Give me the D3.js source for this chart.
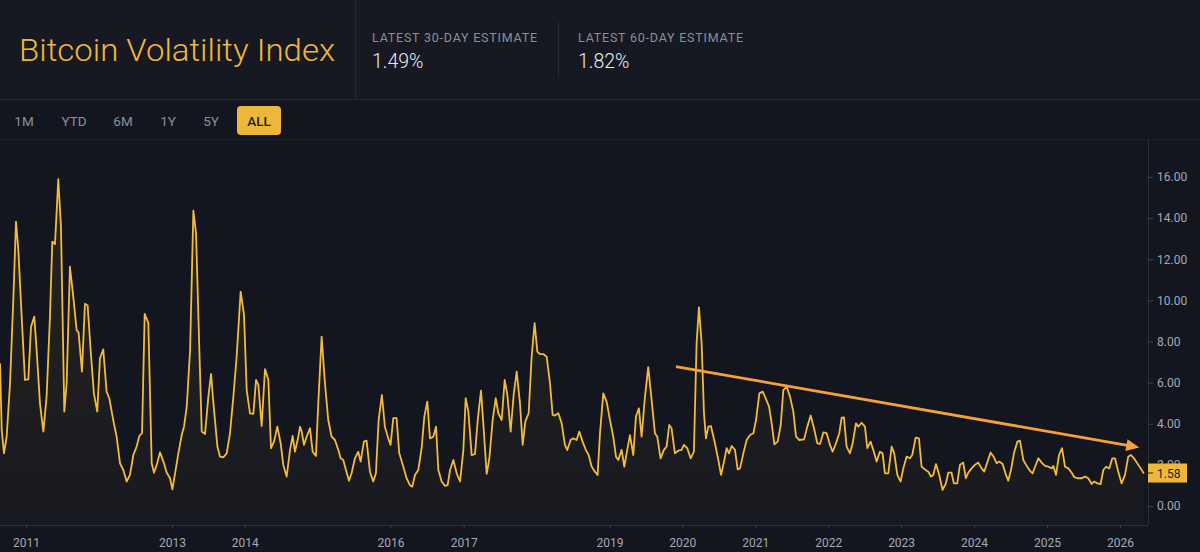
<!DOCTYPE html>
<html>
<head>
<meta charset="utf-8">
<script src="https://cdn.jsdelivr.net/npm/d3@7"></script>
<style>
  html, body { margin: 0; padding: 0; background: #13161e; }
  svg { display: block; }
  text { font-family: Roboto, "Noto Sans", sans-serif; }
</style>
</head>
<body>
<svg id="chart" width="1200" height="552"></svg>
<script>
// ---------------- DATA ----------------
const titleText = "Bitcoin Volatility Index";
const statLabels = ["LATEST 30-DAY ESTIMATE", "LATEST 60-DAY ESTIMATE"];
const statValues = ["1.49%", "1.82%"];
const rangeButtons = ["1M", "YTD", "6M", "1Y", "5Y", "ALL"];
const activeButton = "ALL";

// x-axis tick labels (years shown on the axis)
const xTickYears = [2011, 2013, 2014, 2016, 2017, 2019, 2020, 2021, 2022, 2023, 2024, 2025, 2026];
// y-axis tick values
const yTickValues = [0, 2, 4, 6, 8, 10, 12, 14, 16];

// observation dates, as decimal years
const dates = [
  2010.644, 2010.667, 2010.698, 2010.735, 2010.781, 2010.826, 2010.863, 2010.895, 2010.941, 2010.986,
  2011.032, 2011.069, 2011.114, 2011.146, 2011.192, 2011.238, 2011.283, 2011.329, 2011.361, 2011.398,
  2011.443, 2011.480, 2011.526, 2011.558, 2011.603, 2011.649, 2011.695, 2011.722, 2011.768, 2011.809,
  2011.846, 2011.887, 2011.932, 2011.978, 2012.015, 2012.060, 2012.106, 2012.143, 2012.197, 2012.243,
  2012.289, 2012.335, 2012.380, 2012.426, 2012.472, 2012.517, 2012.554, 2012.591, 2012.627, 2012.677,
  2012.723, 2012.755, 2012.792, 2012.837, 2012.883, 2012.929, 2012.974, 2013.006, 2013.043, 2013.088,
  2013.134, 2013.166, 2013.203, 2013.249, 2013.294, 2013.331, 2013.363, 2013.409, 2013.454, 2013.500,
  2013.537, 2013.569, 2013.624, 2013.660, 2013.706, 2013.751, 2013.797, 2013.843, 2013.888, 2013.943,
  2013.989, 2014.026, 2014.071, 2014.117, 2014.154, 2014.186, 2014.231, 2014.277, 2014.323, 2014.359,
  2014.400, 2014.446, 2014.492, 2014.528, 2014.574, 2014.620, 2014.656, 2014.688, 2014.734,
  2014.757, 2014.780, 2014.812, 2014.848, 2014.894, 2014.931, 2014.976, 2015.008, 2015.054, 2015.100,
  2015.145, 2015.191, 2015.237, 2015.283, 2015.315, 2015.351, 2015.388, 2015.429, 2015.465, 2015.511,
  2015.557, 2015.589, 2015.634, 2015.671, 2015.717, 2015.762, 2015.799, 2015.836, 2015.881, 2015.922,
  2015.968, 2016.000, 2016.037, 2016.082, 2016.119, 2016.174, 2016.219, 2016.265, 2016.297, 2016.334,
  2016.379, 2016.425, 2016.462, 2016.503, 2016.539, 2016.585, 2016.622, 2016.654, 2016.699, 2016.745,
  2016.781, 2016.814, 2016.859, 2016.905, 2016.951, 2016.996, 2017.028, 2017.065, 2017.110, 2017.156,
  2017.193, 2017.238, 2017.270, 2017.316, 2017.353, 2017.398, 2017.440, 2017.476, 2017.522, 2017.563,
  2017.600, 2017.645, 2017.686, 2017.728, 2017.773, 2017.810, 2017.846, 2017.892, 2017.933, 2017.974,
  2018.011, 2018.047, 2018.093, 2018.139, 2018.185, 2018.221, 2018.253, 2018.299, 2018.345, 2018.390,
  2018.422, 2018.468, 2018.504, 2018.550, 2018.587, 2018.632, 2018.678, 2018.715, 2018.756, 2018.801,
  2018.838,
  2018.871, 2018.916, 2018.962, 2019.008, 2019.053, 2019.090, 2019.122, 2019.168, 2019.204, 2019.236,
  2019.282, 2019.328, 2019.364, 2019.405, 2019.442, 2019.488, 2019.533, 2019.579, 2019.625, 2019.657,
  2019.702, 2019.748, 2019.785, 2019.821, 2019.853, 2019.899, 2019.945, 2019.990, 2020.022, 2020.068,
  2020.114, 2020.159, 2020.196, 2020.228, 2020.265, 2020.297, 2020.324, 2020.356, 2020.392, 2020.447,
  2020.493, 2020.530, 2020.571, 2020.607, 2020.639, 2020.676, 2020.721, 2020.758, 2020.790, 2020.836,
  2020.881, 2020.927, 2020.973, 2021.009, 2021.055, 2021.101, 2021.142, 2021.188, 2021.224, 2021.261,
  2021.306, 2021.348, 2021.384, 2021.430, 2021.476, 2021.521, 2021.558, 2021.604, 2021.668, 2021.713,
  2021.759, 2021.805, 2021.850, 2021.887, 2021.933, 2021.978, 2022.024, 2022.060, 2022.106, 2022.152,
  2022.184, 2022.216, 2022.252, 2022.298, 2022.335, 2022.380, 2022.412, 2022.458, 2022.504, 2022.536,
  2022.581, 2022.618, 2022.664, 2022.709,
  2022.746, 2022.778, 2022.824, 2022.870, 2022.906, 2022.948, 2022.993, 2023.030, 2023.075, 2023.121,
  2023.153, 2023.199, 2023.245, 2023.281, 2023.327, 2023.373, 2023.409, 2023.441, 2023.478, 2023.523,
  2023.569, 2023.615, 2023.647, 2023.692, 2023.724, 2023.770, 2023.807, 2023.852, 2023.889, 2023.921,
  2023.967, 2024.012, 2024.058, 2024.104, 2024.140, 2024.181, 2024.227, 2024.273, 2024.310, 2024.346,
  2024.392, 2024.437, 2024.469, 2024.506, 2024.547, 2024.593, 2024.629, 2024.675, 2024.721, 2024.776,
  2024.803, 2024.835, 2024.881, 2024.926, 2024.972, 2025.018, 2025.063, 2025.086, 2025.123, 2025.164,
  2025.205, 2025.246, 2025.292, 2025.338, 2025.374, 2025.420, 2025.475, 2025.521, 2025.566, 2025.612,
  2025.644, 2025.690, 2025.735, 2025.772, 2025.808, 2025.854, 2025.895, 2025.932, 2025.977, 2026.023,
  2026.069, 2026.114, 2026.151, 2026.192, 2026.238, 2026.284, 2026.329
];

// volatility index values (%)
const volatility = [
  6.94, 3.70, 2.56, 3.37, 5.97, 10.02, 13.83, 12.45, 9.21, 6.13,
  6.16, 8.72, 9.21, 7.59, 4.99, 3.62, 5.32, 9.21, 12.86, 12.74,
  15.89, 13.59, 4.59, 5.97, 11.64, 10.18, 8.56, 8.43, 6.53, 9.83,
  9.75, 7.59, 5.48, 4.59, 7.18, 7.62, 5.56, 5.24, 4.18, 3.37,
  2.08, 1.75, 1.19, 1.51, 2.48, 2.89, 3.41, 3.54, 9.34, 8.89,
  2.08, 1.62, 2.00, 2.61, 2.16, 1.62, 1.35, 0.81, 1.59, 2.56,
  3.45, 3.86, 4.83, 7.59, 14.36, 13.26, 9.21, 3.62, 3.50, 5.32,
  6.42, 5.00, 2.89, 2.40, 2.37, 2.56, 3.54, 5.32, 7.26, 10.43,
  9.29, 5.64, 4.51, 4.48, 6.13, 5.89, 3.89, 6.66, 6.13, 2.81,
  3.13, 3.86, 3.05, 2.00, 1.43, 2.72, 3.41, 2.64, 3.37,
  3.86, 3.62, 2.97, 3.37, 3.78, 2.64, 2.43, 5.00, 8.24, 5.97,
  4.18, 3.37, 3.21, 2.72, 2.32, 2.24, 1.75, 1.23, 1.59, 2.32,
  2.64, 2.16, 3.13, 3.18, 1.67, 1.19, 1.59, 4.18, 5.40, 3.86,
  3.29, 2.97, 4.27, 4.27, 2.56, 1.92, 1.35, 1.02, 0.94, 1.51,
  1.75, 2.81, 4.35, 5.08, 3.29, 3.37, 3.86, 1.75, 1.19, 0.98,
  1.02, 1.75, 2.24, 1.59, 1.19, 2.72, 5.24, 4.59, 2.48, 2.52,
  4.18, 5.61, 4.02, 1.56, 2.32, 4.18, 5.24, 4.51, 4.18, 6.13,
  5.40, 3.62, 5.40, 6.54, 5.00, 2.97, 4.10, 4.51, 7.26, 8.89,
  7.51, 7.39, 7.39, 7.26, 5.97, 4.43, 4.40, 4.51, 4.02, 2.97,
  2.72, 3.21, 3.29, 3.21, 3.62, 3.13, 2.72, 2.48, 1.92, 1.67,
  1.51,
  3.54, 5.48, 5.08, 4.18, 3.37, 2.40, 2.24, 2.73, 1.91, 2.56,
  3.45, 2.48, 4.35, 4.75, 3.37, 5.32, 6.75, 5.16, 3.54, 3.37,
  2.32, 2.73, 2.89, 3.94, 3.78, 2.56, 2.69, 2.73, 2.97, 2.81,
  2.32, 2.64, 7.91, 9.66, 7.91, 4.51, 3.29, 3.86, 3.89, 3.05,
  2.24, 1.51, 2.16, 2.81, 2.56, 2.92, 2.73, 1.78, 1.83, 2.56,
  3.21, 3.45, 3.54, 4.18, 5.48, 5.56, 5.24, 4.83, 4.02, 3.00,
  3.13, 3.94, 5.64, 5.80, 5.32, 4.59, 3.37, 3.21, 3.24, 3.86,
  4.40, 3.78, 3.05, 3.02, 3.58, 3.54, 2.97, 2.64, 3.05, 3.54,
  4.30, 4.31, 2.89, 2.56, 3.05, 4.02, 3.86, 4.05, 3.86, 2.81,
  3.13, 2.73, 2.16, 2.64,
  2.56, 1.59, 1.59, 2.89, 2.56, 1.51, 1.19, 1.83, 2.40, 2.32,
  2.48, 3.32, 3.29, 1.91, 1.78, 1.67, 1.43, 1.51, 2.04, 1.51,
  0.78, 1.10, 1.62, 1.62, 1.10, 1.10, 2.00, 2.11, 1.35, 1.62,
  1.83, 2.00, 2.11, 1.83, 1.67, 2.11, 2.60, 2.37, 2.08, 2.16,
  2.04, 1.51, 1.23, 1.75, 2.56, 3.13, 3.18, 2.24, 1.95, 1.67,
  1.59, 1.91, 2.32, 2.11, 1.95, 1.91, 1.83, 1.95, 1.51, 2.48,
  2.81, 1.91, 1.83, 1.62, 1.40, 1.35, 1.35, 1.43, 1.35, 1.07,
  1.19, 1.10, 1.07, 1.75, 1.91, 1.83, 2.32, 2.32, 1.67, 1.10,
  1.51, 2.40, 2.48, 2.32, 2.08, 1.83, 1.58
];

// trend arrow annotation (decimal year, value)
const trendDates = [2019.913, 2026.265];
const trendValues = [6.78, 2.85];

// visible window of the time axis (decimal years)
const viewStart = 2010.6435;
const viewEnd = 2026.385;

// ---------------- HELPERS ----------------
function decYear(y) {
  const yr = Math.floor(y);
  const s = Date.UTC(yr, 0, 1), e = Date.UTC(yr + 1, 0, 1);
  return new Date(s + (y - yr) * (e - s));
}

const n = Math.min(dates.length, volatility.length);
const series = d3.range(n).map(i => ({ date: decYear(dates[i]), value: volatility[i] }));

// ---------------- STYLE / LAYOUT ----------------
const W = 1200, H = 552;
const C = {
  headerBg: "#161922",
  chartBg: "#13161f",
  sep: "#262a33",
  yellow: "#efb73a",
  line: "#f2bb3c",
  arrow: "#f5a03a",
  gray: "#8a9099",
  axisText: "#a3a9b3",
  white: "#eaecef",
  dark: "#1e2026"
};
const plot = { left: 0, right: 1148, top: 140, bottom: 525 };

const svg = d3.select("#chart");

// backgrounds
svg.append("rect").attr("x", 0).attr("y", 0).attr("width", W).attr("height", H).attr("fill", C.chartBg);
svg.append("rect").attr("x", 0).attr("y", 0).attr("width", W).attr("height", 99).attr("fill", C.headerBg);
svg.append("line").attr("x1", 0).attr("x2", W).attr("y1", 99.5).attr("y2", 99.5).attr("stroke", C.sep);
svg.append("line").attr("x1", 0).attr("x2", W).attr("y1", 139.5).attr("y2", 139.5).attr("stroke", "#1c1f28");
svg.append("line").attr("x1", 355.5).attr("x2", 355.5).attr("y1", 0).attr("y2", 99).attr("stroke", C.sep);
svg.append("line").attr("x1", 558.5).attr("x2", 558.5).attr("y1", 22).attr("y2", 78).attr("stroke", C.sep);

// title
svg.append("text").attr("x", 19).attr("y", 61)
  .attr("font-size", 31).attr("font-weight", 300).attr("fill", C.yellow)
  .attr("textLength", 316).attr("lengthAdjust", "spacingAndGlyphs")
  .text(titleText);

// stats
const statX = [372, 578];
statLabels.forEach((lab, i) => {
  svg.append("text").attr("x", statX[i]).attr("y", 42)
    .attr("font-size", 12.5).attr("fill", C.gray)
    .attr("textLength", 165).attr("lengthAdjust", "spacing")
    .text(lab);
  svg.append("text").attr("x", statX[i]).attr("y", 68)
    .attr("font-size", 19.5).attr("font-weight", 300).attr("fill", C.white)
    .text(statValues[i]);
});

// range buttons
const btnCenters = [24, 74, 123, 168, 211, 259];
rangeButtons.forEach((b, i) => {
  const active = b === activeButton;
  if (active) {
    svg.append("rect").attr("x", btnCenters[i] - 22).attr("y", 106)
      .attr("width", 44).attr("height", 29).attr("rx", 4).attr("fill", C.yellow);
  }
  svg.append("text").attr("x", btnCenters[i]).attr("y", 126)
    .attr("text-anchor", "middle").attr("font-size", 13.5).attr("font-weight", active ? 500 : 400)
    .attr("fill", active ? C.dark : C.gray)
    .text(b);
});

// ---------------- SCALES ----------------
const x = d3.scaleUtc().domain([decYear(viewStart), decYear(viewEnd)]).range([plot.left, plot.right]);
const y = d3.scaleLinear().domain([0, 16]).range([506, 177]);

// clip
svg.append("clipPath").attr("id", "clip")
  .append("rect").attr("x", plot.left).attr("y", plot.top)
  .attr("width", plot.right - plot.left).attr("height", plot.bottom - plot.top);

// gradient
const defs = svg.append("defs");
const grad = defs.append("linearGradient").attr("id", "areaGrad").attr("x1", 0).attr("x2", 0).attr("y1", 0).attr("y2", 1);
grad.append("stop").attr("offset", "0%").attr("stop-color", C.line).attr("stop-opacity", 0.09);
grad.append("stop").attr("offset", "100%").attr("stop-color", C.line).attr("stop-opacity", 0.02);

const g = svg.append("g").attr("clip-path", "url(#clip)");

g.append("path").datum(series)
  .attr("fill", "url(#areaGrad)")
  .attr("d", d3.area().x(d => x(d.date)).y0(plot.bottom).y1(d => y(d.value)));

g.append("path").datum(series)
  .attr("fill", "none").attr("stroke", C.line).attr("stroke-width", 1.8)
  .attr("stroke-linejoin", "round")
  .attr("d", d3.line().x(d => x(d.date)).y(d => y(d.value)));

// axes
svg.append("line").attr("x1", plot.left).attr("x2", plot.right)
  .attr("y1", plot.bottom + 0.5).attr("y2", plot.bottom + 0.5).attr("stroke", "#2a2e38");
svg.append("line").attr("x1", plot.right + 0.5).attr("x2", plot.right + 0.5)
  .attr("y1", plot.top).attr("y2", plot.bottom).attr("stroke", "#2a2e38");

const xAxis = d3.axisBottom(x)
  .tickValues(xTickYears.map(yr => new Date(Date.UTC(yr, 0, 1))))
  .tickFormat(d3.utcFormat("%Y"))
  .tickSizeInner(3).tickSizeOuter(0).tickPadding(10);
const xg = svg.append("g").attr("transform", `translate(0,${plot.bottom})`).call(xAxis);
xg.select(".domain").remove();
xg.selectAll(".tick line").attr("stroke", "#3a3f4a");
xg.selectAll(".tick text").attr("fill", C.axisText).attr("font-size", 12)
  .attr("font-family", "Roboto, sans-serif");

const yAxis = d3.axisRight(y)
  .tickValues(yTickValues)
  .tickFormat(d3.format(".2f"))
  .tickSizeInner(5).tickSizeOuter(0).tickPadding(4);
const yg = svg.append("g").attr("transform", `translate(${plot.right},0)`).call(yAxis);
yg.select(".domain").remove();
yg.selectAll(".tick line").attr("stroke", "#3a3f4a");
yg.selectAll(".tick text").attr("fill", C.axisText).attr("font-size", 12)
  .attr("font-family", "Roboto, sans-serif");

// last value tag (drawn over the axis labels, as in the reference)
const last = series[series.length - 1];
const ly = y(last.value);
svg.append("rect").attr("x", plot.right).attr("y", ly - 10).attr("width", 39).attr("height", 19)
  .attr("fill", C.yellow);
svg.append("line").attr("x1", plot.right).attr("x2", plot.right + 5)
  .attr("y1", ly - 0.5).attr("y2", ly - 0.5).attr("stroke", C.dark);
svg.append("text").attr("x", plot.right + 9).attr("y", ly).attr("dy", "0.35em")
  .attr("font-size", 12).attr("fill", C.dark)
  .text(d3.format(".2f")(last.value));

// trend arrow
const p0 = [x(decYear(trendDates[0])), y(trendValues[0])];
const p1 = [x(decYear(trendDates[1])), y(trendValues[1])];
const ang = Math.atan2(p1[1] - p0[1], p1[0] - p0[0]);
const headLen = 13, headHalf = 6;
const base = [p1[0] - headLen * Math.cos(ang), p1[1] - headLen * Math.sin(ang)];
svg.append("line").attr("x1", p0[0]).attr("y1", p0[1]).attr("x2", base[0] + Math.cos(ang)).attr("y2", base[1] + Math.sin(ang))
  .attr("stroke", C.arrow).attr("stroke-width", 2.8).attr("stroke-linecap", "butt");
const perp = [-Math.sin(ang), Math.cos(ang)];
svg.append("path")
  .attr("d", `M${p1[0]},${p1[1]} L${base[0] + perp[0] * headHalf},${base[1] + perp[1] * headHalf} L${base[0] - perp[0] * headHalf},${base[1] - perp[1] * headHalf} Z`)
  .attr("fill", C.arrow);
</script>
</body>
</html>
